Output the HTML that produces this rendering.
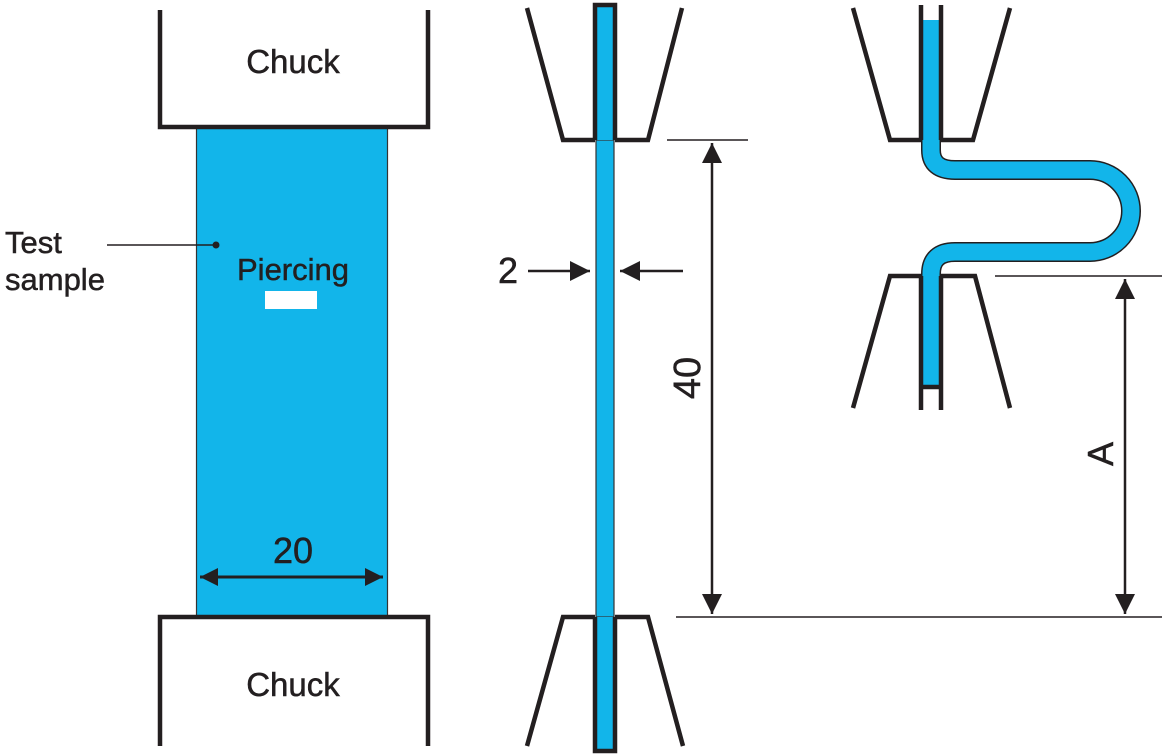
<!DOCTYPE html>
<html><head><meta charset="utf-8"><style>
html,body{margin:0;padding:0;background:#fff;}
svg{display:block;}
text{font-family:"Liberation Sans",sans-serif;fill:#231f20;stroke:#231f20;stroke-width:0.5;}
</style></head><body>
<svg width="1162" height="756" viewBox="0 0 1162 756" xmlns="http://www.w3.org/2000/svg">
<defs>
<marker id="ah" viewBox="0 0 10 10" refX="10" refY="5" markerWidth="6" markerHeight="6" markerUnits="strokeWidth" orient="auto-start-reverse">
<path d="M0,0 L10,5 L0,10 z" fill="#231f20"/></marker>
<marker id="ah2" viewBox="0 0 10 10" refX="10" refY="5" markerWidth="8" markerHeight="8" markerUnits="strokeWidth" orient="auto-start-reverse">
<path d="M0,0 L10,5 L0,10 z" fill="#231f20"/></marker>
</defs>
<g stroke="#231f20" fill="none">
<!-- Left panel -->
<rect x="196.5" y="127" width="191" height="490" fill="#12b5ea" stroke="#333" stroke-width="1.2"/>
<path d="M160,10 V127 H428 V10" stroke-width="4.5"/>
<path d="M160,746 V617 H428 V746" stroke-width="4.5"/>
<rect x="265" y="291" width="52" height="18" fill="#fff" stroke="none"/>
<line x1="107" y1="245" x2="215" y2="245" stroke-width="1.5"/>
<circle cx="216" cy="245" r="3.5" fill="#231f20" stroke="none"/>
<line x1="200" y1="577" x2="383" y2="577" stroke-width="3" marker-start="url(#ah)" marker-end="url(#ah)"/>

<!-- Middle panel -->
<rect x="596" y="140" width="18" height="477" fill="#12b5ea" stroke="#333" stroke-width="1.2"/>
<path d="M595,140 V5 H615 V140" fill="#12b5ea" stroke-width="4.5"/>
<path d="M595,617 V751 H615 V617" fill="#12b5ea" stroke-width="4.5"/>
<path d="M527,8 L563,140 H595 M615,140 H648 L682,8" stroke-width="4.5"/>
<path d="M527,746 L563,617 H595 M615,617 H648 L683,746" stroke-width="4.5"/>
<line x1="667" y1="140" x2="748" y2="140" stroke-width="1.5"/>
<line x1="676" y1="617" x2="1162" y2="617" stroke-width="1.5"/>
<line x1="712" y1="143" x2="712" y2="614" stroke-width="2.5" marker-start="url(#ah2)" marker-end="url(#ah2)"/>
<line x1="528" y1="271" x2="590" y2="271" stroke-width="2.5" marker-end="url(#ah2)"/>
<line x1="683" y1="271" x2="620" y2="271" stroke-width="2.5" marker-end="url(#ah2)"/>

<!-- Right panel -->
<rect x="923" y="20" width="16" height="125" fill="#12b5ea" stroke="none"/>
<path d="M931,135 V150 Q931,170 955,170 H1090 A41,41 0 0 1 1090,252 H955 Q931,252 931,274 V387" stroke="#231f20" stroke-width="20" stroke-linejoin="round"/>
<path d="M931,135 V150 Q931,170 955,170 H1090 A41,41 0 0 1 1090,252 H955 Q931,252 931,274 V385" stroke="#12b5ea" stroke-width="17" stroke-linejoin="round"/>
<rect x="923" y="120" width="16" height="30" fill="#12b5ea" stroke="none"/>
<path d="M921,5 V140 M941,5 V140" stroke-width="4.5"/>
<path d="M853,8 L890,140 H921 M941,140 H973 L1010,8" stroke-width="4.5"/>
<path d="M921,276 V410 M941,276 V410 M921,387 H941" stroke-width="4.5"/>
<path d="M853,408 L890,276 H921 M941,276 H975 L1010,408" stroke-width="4.5"/>
<line x1="995" y1="276" x2="1162" y2="276" stroke-width="1.5"/>
<line x1="1125" y1="279" x2="1125" y2="614" stroke-width="2.5" marker-start="url(#ah2)" marker-end="url(#ah2)"/>
</g>
<text x="293" y="73" font-size="33" text-anchor="middle">Chuck</text>
<text x="293" y="696" font-size="33" text-anchor="middle">Chuck</text>
<text x="293" y="280" font-size="31" text-anchor="middle">Piercing</text>
<text x="5" y="253" font-size="31">Test</text>
<text x="5" y="290" font-size="31">sample</text>
<text x="293" y="563" font-size="36" text-anchor="middle">20</text>
<text x="508" y="283" font-size="36" text-anchor="middle">2</text>
<text x="0" y="0" font-size="38" text-anchor="middle" transform="translate(700,378) rotate(-90)">40</text>
<text x="0" y="0" font-size="36" text-anchor="middle" transform="translate(1113,454) rotate(-90)">A</text>
</svg>
</body></html>
